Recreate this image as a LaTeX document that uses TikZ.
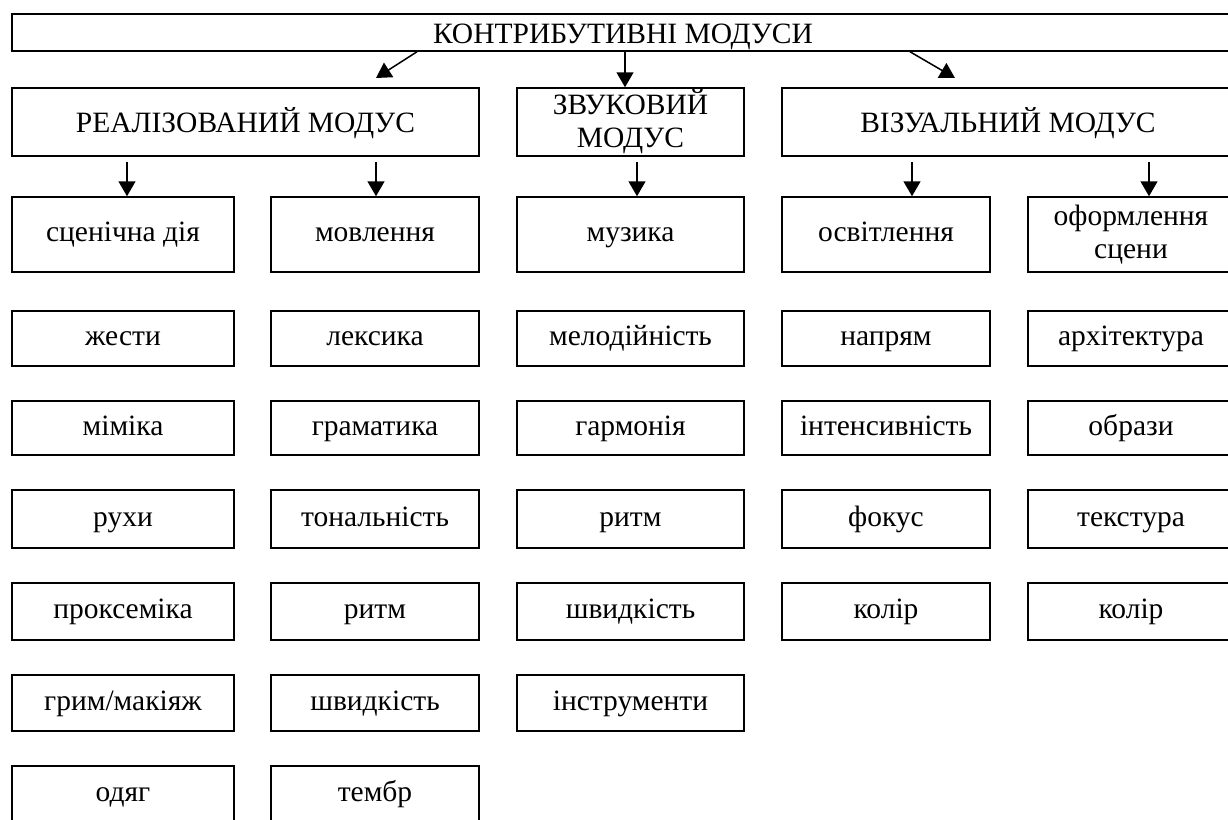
\documentclass[tikz,border=0pt]{standalone}
\usepackage{fontspec}
\setmainfont{Liberation Serif}
\usetikzlibrary{arrows.meta}
\begin{document}
\begin{tikzpicture}[x=1pt,y=-1pt,
  base/.style={draw, line width=1.5pt, inner sep=0pt, font=\fontsize{29.5}{33}\selectfont, align=center},
  box/.style={base, text height=20pt, text depth=6pt},
  capbox/.style={base, text height=22pt, text depth=1pt},
  twobox/.style={base},
  arr/.style={line width=1.5pt, -{Triangle[width=17pt,length=15pt]}},
  w1/.style={minimum width=222pt}, w2/.style={minimum width=208pt},
  w3/.style={minimum width=227pt}, w4/.style={minimum width=208pt},
  w5/.style={minimum width=206pt},
  h1/.style={minimum height=75pt}, h2/.style={minimum height=55pt},
  h3/.style={minimum height=54pt}, h4/.style={minimum height=58pt},
  h5/.style={minimum height=57pt}, h6/.style={minimum height=56pt},
  h7/.style={minimum height=56pt}]
\useasboundingbox (0,0) rectangle (1228,819);
\clip (0,0) rectangle (1228,819);
% top
\node[capbox, minimum width=1222pt, minimum height=37pt] (top) at (623,32.5) {КОНТРИБУТИВНІ МОДУСИ};
% level 2
\node[capbox, minimum width=467pt, minimum height=68pt] (real) at (245.5,122) {РЕАЛІЗОВАНИЙ МОДУС};
\node[twobox, minimum width=227pt, minimum height=68pt] (zvuk) at (630.5,122) {ЗВУКОВИЙ\\МОДУС};
\node[capbox, minimum width=452pt, minimum height=68pt] (viz) at (1008,122) {ВІЗУАЛЬНИЙ МОДУС};
% column 1
\node[box,w1,h1] (c1r1) at (123,234.5) {сценічна дія};
\node[box,w1,h2] (c1r2) at (123,338.5) {жести};
\node[box,w1,h3] (c1r3) at (123,428) {міміка};
\node[box,w1,h4] (c1r4) at (123,519) {рухи};
\node[box,w1,h5] (c1r5) at (123,611.5) {проксеміка};
\node[box,w1,h6] (c1r6) at (123,703) {грим/макіяж};
\node[box,w1,h7] (c1r7) at (123,794) {одяг};
% column 2
\node[box,w2,h1] (c2r1) at (375,234.5) {мовлення};
\node[box,w2,h2] (c2r2) at (375,338.5) {лексика};
\node[box,w2,h3] (c2r3) at (375,428) {граматика};
\node[box,w2,h4] (c2r4) at (375,519) {тональність};
\node[box,w2,h5] (c2r5) at (375,611.5) {ритм};
\node[box,w2,h6] (c2r6) at (375,703) {швидкість};
\node[box,w2,h7] (c2r7) at (375,794) {тембр};
% column 3
\node[box,w3,h1] (c3r1) at (630.5,234.5) {музика};
\node[box,w3,h2] (c3r2) at (630.5,338.5) {мелодійність};
\node[box,w3,h3] (c3r3) at (630.5,428) {гармонія};
\node[box,w3,h4] (c3r4) at (630.5,519) {ритм};
\node[box,w3,h5] (c3r5) at (630.5,611.5) {швидкість};
\node[box,w3,h6] (c3r6) at (630.5,703) {інструменти};
% column 4
\node[box,w4,h1] (c4r1) at (886,234.5) {освітлення};
\node[box,w4,h2] (c4r2) at (886,338.5) {напрям};
\node[box,w4,h3] (c4r3) at (886,428) {інтенсивність};
\node[box,w4,h4] (c4r4) at (886,519) {фокус};
\node[box,w4,h5] (c4r5) at (886,611.5) {колір};
% column 5
\node[twobox,w5,h1] (c5r1) at (1131,234.5) {оформлення\\сцени};
\node[box,w5,h2] (c5r2) at (1131,338.5) {архітектура};
\node[box,w5,h3] (c5r3) at (1131,428) {образи};
\node[box,w5,h4] (c5r4) at (1131,519) {текстура};
\node[box,w5,h5] (c5r5) at (1131,611.5) {колір};
% arrows from top
\coordinate (lt) at (376,78);
\coordinate (rt) at (955,78);
\coordinate (m) at (625,0);
\draw[arr] ([xshift=-206pt]top.south) -- (lt);
\draw[arr] (top.south -| m) -- (zvuk.north -| m);
\draw[arr] ([xshift=287pt]top.south) -- (rt);
% arrows to columns
\coordinate (a1) at (127,0);
\coordinate (a2) at (376,0);
\coordinate (a3) at (637,0);
\coordinate (a4) at (912,0);
\coordinate (a5) at (1149,0);
\draw[arr] ([yshift=-5pt]real.south -| a1) -- (c1r1.north -| a1);
\draw[arr] ([yshift=-5pt]real.south -| a2) -- (c2r1.north -| a2);
\draw[arr] ([yshift=-5pt]zvuk.south -| a3) -- (c3r1.north -| a3);
\draw[arr] ([yshift=-5pt]viz.south -| a4) -- (c4r1.north -| a4);
\draw[arr] ([yshift=-5pt]viz.south -| a5) -- (c5r1.north -| a5);
\end{tikzpicture}
\end{document}
